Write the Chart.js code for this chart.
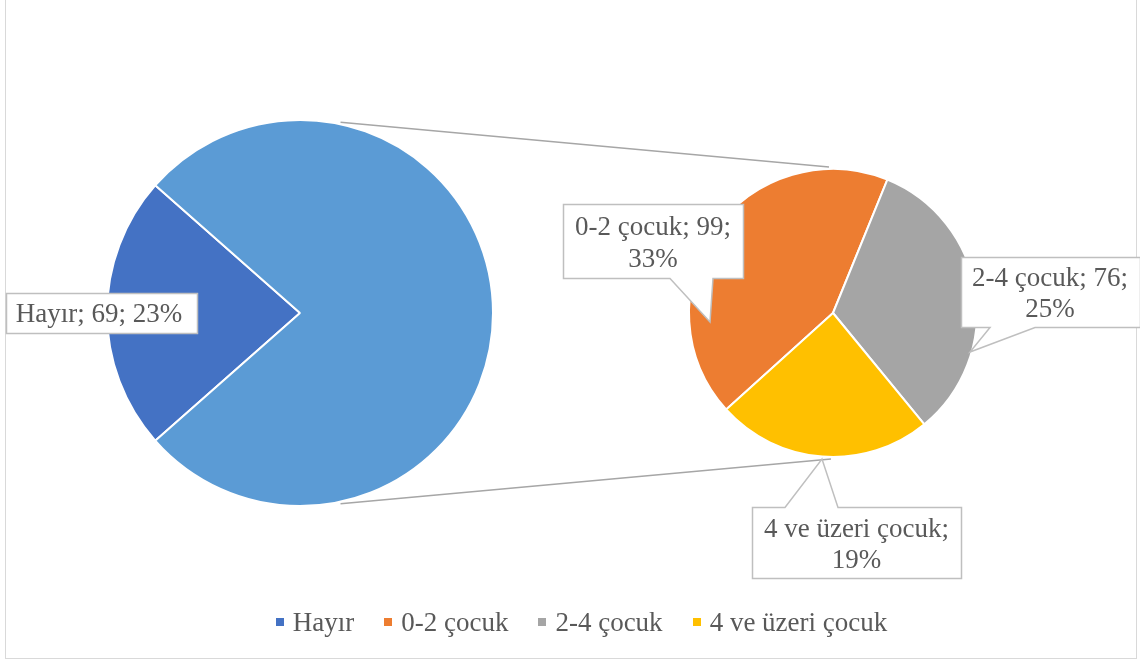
<!DOCTYPE html>
<html>
<head>
<meta charset="utf-8">
<script src="https://cdn.jsdelivr.net/npm/chart.js@4"></script>
<style>
  html, body { margin: 0; padding: 0; background: #fff; }
  #wrap { position: relative; width: 1140px; height: 664px; overflow: hidden; background: #fff; }
  #frame { position: absolute; left: 5px; top: -2px; width: 1132px; height: 661px; border: 1px solid #d9d9d9; box-sizing: border-box; }
  canvas { position: absolute; left: 0; top: 0; }
  #legend { position: absolute; left: 10px; width: 1143px; top: 607px; text-align: center; font-family: "Liberation Serif", "Times New Roman", serif; font-size: 27px; color: #595959; white-space: nowrap; }
  #legend span.item { display: inline-block; margin: 0 15px; }
  #legend i { display: inline-block; width: 8px; height: 8px; margin-right: 9px; vertical-align: 5px; }
</style>
</head>
<body>
<div id="wrap">
  <div id="frame"></div>
  <canvas id="c1" width="1140" height="664"></canvas>
  <canvas id="c2" width="1140" height="664"></canvas>
  <div id="legend"></div>
</div>
<script>
// ---- data ----
const primaryLabels = ['Hayır', 'Diğer'];
const secondaryLabels = ['0-2 çocuk', '2-4 çocuk', '4 ve üzeri çocuk'];
const hayirValue = [69];
const secondaryValues = [99, 76, 56];
const legendLabels = ['Hayır', '0-2 çocuk', '2-4 çocuk', '4 ve üzeri çocuk'];
const primaryColors = ['#4472C4', '#5B9BD5'];
const secondaryColors = ['#ED7D31', '#A5A5A5', '#FFC000'];
const legendColors = ['#4472C4', '#ED7D31', '#A5A5A5', '#FFC000'];

const otherSum = secondaryValues.reduce((a, b) => a + b, 0);
const primaryValues = [hayirValue[0], otherSum];
const total = primaryValues[0] + otherSum;
const pct = v => Math.round(v / total * 100) + '%';

const FONT = '"Liberation Serif", "Times New Roman", serif';
const TXT = '#595959';
const BOXLINE = '#bfbfbf';

// legend (HTML text)
const lg = document.getElementById('legend');
legendLabels.forEach((l, i) => {
  const s = document.createElement('span');
  s.className = 'item';
  s.innerHTML = '<i style="background:' + legendColors[i] + '"></i>' + l;
  lg.appendChild(s);
});

// label callouts: box + optional tail, text lines
const callouts = [
  { lines: [primaryLabels[0] + '; ' + hayirValue[0] + '; ' + pct(hayirValue[0])], box: [6, 293, 197, 333], tail: null, ty: [315], tx: 99 },
  { lines: [secondaryLabels[0] + '; ' + secondaryValues[0] + ';', pct(secondaryValues[0])], box: [563, 204, 743, 278], tail: { side: 'bottom', a: 670, b: 713, tip: [710, 322] }, ty: [228, 260] },
  { lines: [secondaryLabels[1] + '; ' + secondaryValues[1] + ';', pct(secondaryValues[1])], box: [961, 257, 1140, 327], tail: { side: 'bottom', a: 990, b: 1035, tip: [970, 352] }, ty: [279, 310], tx: 1050 },
  { lines: [secondaryLabels[2] + ';', pct(secondaryValues[2])], box: [752, 507, 961, 578], tail: { side: 'top', a: 785, b: 838, tip: [822, 459] }, ty: [530, 561] }
];

Chart.defaults.animation = false;

const left = new Chart(document.getElementById('c1'), {
  type: 'pie',
  data: { labels: primaryLabels, datasets: [{ data: primaryValues, backgroundColor: primaryColors, borderColor: '#ffffff', borderWidth: 2 }] },
  options: {
    responsive: false, animation: false, rotation: 228.6,
    layout: { padding: { left: 106, right: 1140 - 494, top: 119, bottom: 664 - 507 } },
    plugins: { legend: { display: false }, tooltip: { enabled: false } }
  }
});

const overlay = {
  id: 'overlay',
  afterDraw(chart) {
    const ctx = chart.ctx;
    const lArc = left.getDatasetMeta(0).data[0];
    const rArc = chart.getDatasetMeta(0).data[0];
    const ang = 78 * Math.PI / 180;
    const lr = lArc.outerRadius + 2;
    ctx.save();
    // connector lines
    ctx.strokeStyle = '#a6a6a6';
    ctx.lineWidth = 1.3;
    ctx.beginPath();
    ctx.moveTo(lArc.x + lr * Math.cos(-ang), lArc.y + lr * Math.sin(-ang));
    ctx.lineTo(rArc.x - 4, rArc.y - rArc.outerRadius - 2);
    ctx.moveTo(lArc.x + lr * Math.cos(ang), lArc.y + lr * Math.sin(ang));
    ctx.lineTo(rArc.x - 2, rArc.y + rArc.outerRadius + 2);
    ctx.stroke();
    // callouts
    callouts.forEach(c => {
      const [x1, y1, x2, y2] = c.box;
      ctx.beginPath();
      if (!c.tail) {
        ctx.rect(x1 + 0.5, y1 + 0.5, x2 - x1, y2 - y1);
      } else if (c.tail.side === 'bottom') {
        ctx.moveTo(x1 + 0.5, y1 + 0.5);
        ctx.lineTo(x2 + 0.5, y1 + 0.5);
        ctx.lineTo(x2 + 0.5, y2 + 0.5);
        ctx.lineTo(c.tail.b, y2 + 0.5);
        ctx.lineTo(c.tail.tip[0], c.tail.tip[1]);
        ctx.lineTo(c.tail.a, y2 + 0.5);
        ctx.lineTo(x1 + 0.5, y2 + 0.5);
        ctx.closePath();
      } else {
        ctx.moveTo(x1 + 0.5, y1 + 0.5);
        ctx.lineTo(c.tail.a, y1 + 0.5);
        ctx.lineTo(c.tail.tip[0], c.tail.tip[1]);
        ctx.lineTo(c.tail.b, y1 + 0.5);
        ctx.lineTo(x2 + 0.5, y1 + 0.5);
        ctx.lineTo(x2 + 0.5, y2 + 0.5);
        ctx.lineTo(x1 + 0.5, y2 + 0.5);
        ctx.closePath();
      }
      ctx.fillStyle = '#ffffff';
      ctx.fill();
      ctx.strokeStyle = BOXLINE;
      ctx.lineWidth = 1.5;
      ctx.stroke();
      ctx.fillStyle = TXT;
      ctx.font = '27px ' + FONT;
      ctx.textAlign = 'center';
      ctx.textBaseline = 'middle';
      const tx = c.tx || (x1 + x2) / 2;
      c.lines.forEach((l, i) => ctx.fillText(l, tx, c.ty[i]));
    });
    ctx.restore();
  }
};

const right = new Chart(document.getElementById('c2'), {
  type: 'pie',
  data: { labels: secondaryLabels, datasets: [{ data: secondaryValues, backgroundColor: secondaryColors, borderColor: '#ffffff', borderWidth: 2 }] },
  options: {
    responsive: false, animation: false, rotation: 227.9,
    layout: { padding: { left: 688, right: 1140 - 978, top: 168, bottom: 664 - 458 } },
    plugins: { legend: { display: false }, tooltip: { enabled: false } }
  },
  plugins: [overlay]
});
</script>
</body>
</html>
